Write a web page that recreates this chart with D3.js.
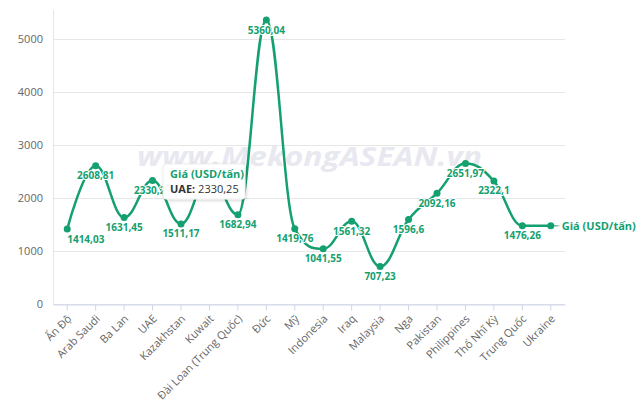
<!DOCTYPE html>
<html lang="vi">

<head>
  <meta charset="UTF-8">
  <title>Giá (USD/tấn)</title>
  <script src="https://d3js.org/d3.v7.min.js"></script>
  <style>
    body {
      margin: 0;
      padding: 0;
      background: #fff;
      font-family: "Open Sans", sans-serif;
    }

    .tick text {
      fill: #666;
      font-size: 11px;
      font-family: "Open Sans", sans-serif;
    }

    .label {
      font-size: 10px;
      font-weight: bold;
      fill: #14a06f;
      stroke: #fff;
      stroke-width: 2px;
      paint-order: stroke;
      stroke-linejoin: round;
    }
  </style>
</head>

<body>
  <svg id="chart"></svg>
  <script>
    // data (Kuwait is hidden by the tooltip, estimated)
    const categories = ["Ấn Độ", "Arab Saudi", "Ba Lan", "UAE", "Kazakhstan", "Kuwait",
      "Đài Loan (Trung Quốc)", "Đức", "Mỹ", "Indonesia", "Iraq", "Malaysia", "Nga",
      "Pakistan", "Philippines", "Thổ Nhĩ Kỳ", "Trung Quốc", "Ukraine"];
    const prices = [1414.03, 2608.81, 1631.45, 2330.25, 1511.17, 2450, 1682.94, 5360.04,
      1419.76, 1041.55, 1561.32, 707.23, 1596.6, 2092.16, 2651.97, 2322.1, 1476.26, 1476];
    const yTicks = [0, 1000, 2000, 3000, 4000, 5000];
    const seriesName = "Giá (USD/tấn)";
    const tooltipIndex = 3;

    const width = 640;
    const height = 411;
    const green = "#14a06f";
    const plot = { left: 53, right: 565, top: 10, bottom: 304 };

    const fmt = v => String(v).replace(".", ",");

    // highcharts style spline: control points at 1/2.5 of the interval
    function splinePath(pts) {
      const smoothing = 1.5, denom = 2.5;
      const ctrl = pts.map((pt, i) => {
        const [x, y] = pt;
        const last = pts[i - 1], next = pts[i + 1];
        if (!last || !next) return { lx: x, ly: y, rx: x, ry: y };
        let lx = (smoothing * x + last[0]) / denom, ly = (smoothing * y + last[1]) / denom;
        let rx = (smoothing * x + next[0]) / denom, ry = (smoothing * y + next[1]) / denom;
        let corr = 0;
        if (rx !== lx) corr = ((ry - ly) * (rx - x)) / (rx - lx) + y - ry;
        ly += corr; ry += corr;
        if (ly > last[1] && ly > y) { ly = Math.max(last[1], y); ry = 2 * y - ly; }
        else if (ly < last[1] && ly < y) { ly = Math.min(last[1], y); ry = 2 * y - ly; }
        if (ry > next[1] && ry > y) { ry = Math.max(next[1], y); ly = 2 * y - ry; }
        else if (ry < next[1] && ry < y) { ry = Math.min(next[1], y); ly = 2 * y - ry; }
        return { lx, ly, rx, ry };
      });
      const p = d3.path();
      p.moveTo(pts[0][0], pts[0][1]);
      for (let i = 1; i < pts.length; i++) {
        p.bezierCurveTo(ctrl[i - 1].rx, ctrl[i - 1].ry, ctrl[i].lx, ctrl[i].ly, pts[i][0], pts[i][1]);
      }
      return p.toString();
    }

    const svg = d3.select("#chart")
      .attr("width", width)
      .attr("height", height)
      .attr("viewBox", [0, 0, width, height]);

    const x = d3.scaleBand()
      .domain(categories)
      .range([plot.left, plot.right]);

    const y = d3.scaleLinear()
      .domain([0, 5550])
      .range([plot.bottom, plot.top]);

    const cx = d => x(d) + x.bandwidth() / 2;

    const defs = svg.append("defs");
    const shadow = defs.append("filter").attr("id", "shadow")
      .attr("x", "-20%").attr("y", "-20%").attr("width", "140%").attr("height", "150%");
    shadow.append("feDropShadow")
      .attr("dx", 1).attr("dy", 1).attr("stdDeviation", 1.5)
      .attr("flood-color", "#000").attr("flood-opacity", 0.18);

    // grid lines
    svg.append("g")
      .selectAll("line")
      .data(yTicks)
      .join("line")
      .attr("x1", plot.left)
      .attr("x2", plot.right)
      .attr("y1", d => Math.round(y(d)) + 0.5)
      .attr("y2", d => Math.round(y(d)) + 0.5)
      .attr("stroke", "#e6e6e6");

    svg.append("line")
      .attr("x1", plot.left + 0.5).attr("x2", plot.left + 0.5)
      .attr("y1", plot.top).attr("y2", plot.bottom)
      .attr("stroke", "#e6e6e6");

    // watermark
    svg.append("text")
      .attr("x", 137)
      .attr("y", 166)
      .attr("textLength", 345)
      .attr("lengthAdjust", "spacingAndGlyphs")
      .attr("font-size", 27)
      .attr("font-weight", "bold")
      .attr("font-style", "italic")
      .attr("fill", "#e8e8f0")
      .text("www.MekongASEAN.vn");

    // y axis
    const yAxis = svg.append("g")
      .attr("transform", `translate(${plot.left - 10},0)`)
      .call(d3.axisLeft(y).tickValues(yTicks).tickSize(0).tickPadding(0).tickFormat(d3.format("d")));
    yAxis.select(".domain").remove();

    // x axis
    const xAxis = svg.append("g")
      .attr("transform", `translate(0,${plot.bottom + 0.5})`)
      .call(d3.axisBottom(x).tickSize(6).tickSizeOuter(0));
    xAxis.select(".domain").attr("stroke", "#ccd6eb");
    xAxis.selectAll(".tick line").attr("stroke", "#ccd6eb");
    xAxis.selectAll(".tick text")
      .attr("text-anchor", "end")
      .attr("dy", null)
      .attr("y", 0)
      .attr("transform", "translate(5,15) rotate(-45)");

    // line
    const pts = prices.map((v, i) => [cx(categories[i]), y(v)]);
    svg.append("path")
      .attr("d", splinePath(pts))
      .attr("fill", "none")
      .attr("stroke", green)
      .attr("stroke-width", 2.5)
      .attr("stroke-linecap", "round");

    svg.append("g")
      .selectAll("circle")
      .data(prices)
      .join("circle")
      .attr("cx", (d, i) => cx(categories[i]))
      .attr("cy", d => y(d))
      .attr("r", 3.5)
      .attr("fill", green);

    // tooltip box position (UAE point)
    const tip = { x: cx(categories[tooltipIndex]) + 10.5, y: y(prices[tooltipIndex]) - 16.5, w: 82, h: 35 };

    // data labels, hide ones that collide or sit under the tooltip (like highcharts)
    const labelG = svg.append("g");
    const placed = [];
    prices.forEach((v, i) => {
      const px = cx(categories[i]);
      const t = labelG.append("text")
        .attr("class", "label")
        .attr("x", px)
        .attr("y", y(v) + 13.5)
        .attr("text-anchor", "middle")
        .text(fmt(v));
      let b = t.node().getBBox();
      if (b.x < plot.left) {
        t.attr("text-anchor", "start");
        b = t.node().getBBox();
      }
      const hit = placed.some(p => b.x < p.x + p.width && p.x < b.x + b.width && b.y < p.y + p.height && p.y < b.y + b.height);
      const covered = b.x >= tip.x && b.x + b.width <= tip.x + tip.w && b.y >= tip.y && b.y + b.height <= tip.y + tip.h;
      if (hit || covered) t.remove();
      else placed.push(b);
    });

    // series label at the end of the line
    const lastX = cx(categories[categories.length - 1]);
    const lastY = y(prices[prices.length - 1]);
    svg.append("line")
      .attr("x1", lastX + 3).attr("x2", lastX + 7)
      .attr("y1", lastY).attr("y2", lastY)
      .attr("stroke", green).attr("stroke-width", 1);
    svg.append("line")
      .attr("x1", lastX + 7).attr("x2", lastX + 9)
      .attr("y1", lastY).attr("y2", lastY)
      .attr("stroke", "#bbb").attr("stroke-width", 1);
    svg.append("text")
      .attr("x", lastX + 11)
      .attr("y", lastY + 4)
      .attr("font-size", 11)
      .attr("font-weight", "bold")
      .attr("fill", green)
      .text(seriesName);

    // tooltip on UAE
    const tipG = svg.append("g").attr("transform", `translate(${tip.x},${tip.y})`);
    tipG.append("rect")
      .attr("width", tip.w)
      .attr("height", tip.h)
      .attr("rx", 3)
      .attr("fill", "#fff")
      .attr("stroke", "#eee")
      .attr("filter", "url(#shadow)");
    tipG.append("text")
      .attr("x", 7)
      .attr("y", 14)
      .attr("font-size", 11)
      .attr("font-weight", "bold")
      .attr("fill", green)
      .text(seriesName);
    const line2 = tipG.append("text")
      .attr("x", 7)
      .attr("y", 29)
      .attr("font-size", 11)
      .attr("fill", "#333");
    line2.append("tspan").attr("font-weight", "bold").text(categories[tooltipIndex] + ": ");
    line2.append("tspan").text(fmt(prices[tooltipIndex]));
  </script>
</body>

</html>
